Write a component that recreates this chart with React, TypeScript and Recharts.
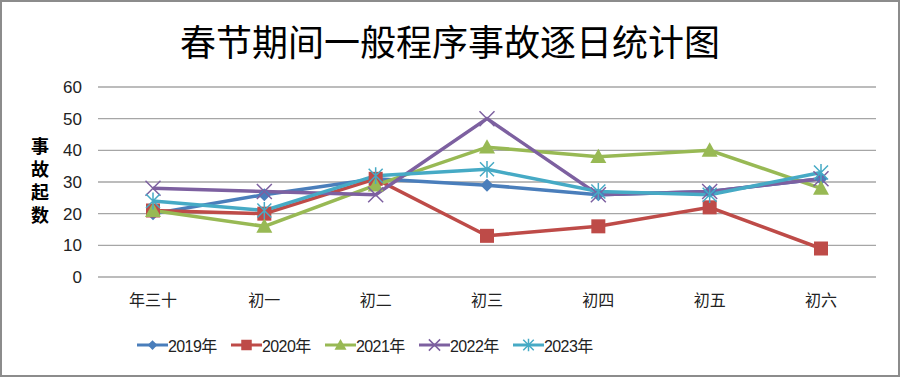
import { LineChart, Line, XAxis, YAxis, CartesianGrid, Legend } from "recharts";

const days = ["年三十", "初一", "初二", "初三", "初四", "初五", "初六"];
const y2019 = [20, 26, 31, 29, 26, 27, 31];
const y2020 = [21, 20, 31, 13, 16, 22, 9];
const y2021 = [21, 16, 29, 41, 38, 40, 28];
const y2022 = [28, 27, 26, 50, 26, 27, 31];
const y2023 = [24, 21, 32, 34, 27, 26, 33];
const yTicks = [0, 10, 20, 30, 40, 50, 60];

const data = days.map((d, i) => ({
  day: d,
  y2019: y2019[i],
  y2020: y2020[i],
  y2021: y2021[i],
  y2022: y2022[i],
  y2023: y2023[i],
}));

const series = [
  { key: "y2019", name: "2019年", color: "#4A7EBB", shape: "diamond" },
  { key: "y2020", name: "2020年", color: "#BE4B48", shape: "square" },
  { key: "y2021", name: "2021年", color: "#98B954", shape: "triangle" },
  { key: "y2022", name: "2022年", color: "#7D60A0", shape: "x" },
  { key: "y2023", name: "2023年", color: "#46AAC5", shape: "star" },
];

const Marker = ({ cx, cy, shape, color, s = 1 }: any) => {
  if (cx == null || cy == null) return null;
  if (shape === "diamond") {
    const r = 6.5 * s;
    return <path d={`M${cx},${cy - r}L${cx + r},${cy}L${cx},${cy + r}L${cx - r},${cy}Z`} fill={color} />;
  }
  if (shape === "square") {
    const r = 7 * s;
    return <rect x={cx - r} y={cy - r} width={2 * r} height={2 * r} fill={color} />;
  }
  if (shape === "triangle") {
    const r = 8 * s;
    return <path d={`M${cx},${cy - r}L${cx + r},${cy + r * 0.8}L${cx - r},${cy + r * 0.8}Z`} fill={color} />;
  }
  if (shape === "x") {
    const r = 7.5 * s;
    return (
      <path d={`M${cx - r},${cy - r}L${cx + r},${cy + r}M${cx + r},${cy - r}L${cx - r},${cy + r}`} stroke={color} strokeWidth={1.5} />
    );
  }
  const r = 7 * s;
  return (
    <path
      d={`M${cx - r},${cy - r}L${cx + r},${cy + r}M${cx + r},${cy - r}L${cx - r},${cy + r}M${cx},${cy - r * 1.2}L${cx},${cy + r * 1.2}`}
      stroke={color}
      strokeWidth={1.5}
    />
  );
};

const renderLegend = () => (
  <div
    style={{
      display: "flex",
      justifyContent: "flex-start",
      paddingTop: 16,
      paddingLeft: 89,
      fontFamily: "'Liberation Sans', 'Noto Sans CJK SC'",
      fontSize: 16,
      letterSpacing: -0.6,
      color: "#222",
    }}
  >
    {series.map((s) => (
      <div key={s.key} style={{ display: "flex", alignItems: "center", width: 94 }}>
        <svg width={31} height={16}>
          <line x1={0} y1={8} x2={31} y2={8} stroke={s.color} strokeWidth={3} />
          <Marker cx={15.5} cy={8} shape={s.shape} color={s.color} s={0.75} />
        </svg>
        <span>{s.name}</span>
      </div>
    ))}
  </div>
);

const App = () => {
  return (
    <div style={{ position: "absolute", left: 0, top: 0, width: 900, height: 377, background: "#fff" }}>
      <div style={{ position: "absolute", left: 0, top: 0, width: 896, height: 373, border: "2px solid #8c8c8c" }} />
      <div
        style={{
          position: "absolute",
          left: 0,
          top: 16,
          width: 900,
          textAlign: "center",
          fontFamily: "'Noto Sans CJK SC'",
          fontSize: 36,
          lineHeight: "48px",
          color: "#000",
        }}
      >
        春节期间一般程序事故逐日统计图
      </div>
      <div
        style={{
          position: "absolute",
          left: 29,
          top: 137,
          writingMode: "vertical-rl",
          textOrientation: "upright",
          fontFamily: "'Noto Sans CJK SC'",
          fontSize: 18,
          fontWeight: 700,
          letterSpacing: 5,
          lineHeight: "22px",
          color: "#000",
        }}
      >
        事故起数
      </div>
      <LineChart width={900} height={377} data={data} margin={{ top: 87, right: 24, bottom: 10, left: 48 }}>
        <CartesianGrid vertical={false} stroke="#a6a6a6" strokeWidth={1.3} />
        <XAxis
          dataKey="day"
          axisLine={false}
          tickLine={false}
          height={40}
          tickMargin={12}
          padding={{ left: 55, right: 55 }}
          tick={{ fontSize: 16, fill: "#222", fontFamily: "'Noto Sans CJK SC'" }}
        />
        <YAxis
          domain={[0, 60]}
          ticks={yTicks}
          axisLine={false}
          tickLine={false}
          width={50}
          tickMargin={10}
          tick={{ fontSize: 17, fill: "#222", fontFamily: "'Liberation Sans'" }}
        />
        <Legend verticalAlign="bottom" height={50} content={renderLegend} />
        {series.map((s) => (
          <Line
            key={s.key}
            dataKey={s.key}
            name={s.name}
            stroke={s.color}
            strokeWidth={3.5}
            isAnimationActive={false}
            dot={(p: any) => <Marker key={`${s.key}-${p.index}`} cx={p.cx} cy={p.cy} shape={s.shape} color={s.color} />}
            activeDot={false}
          />
        ))}
      </LineChart>
    </div>
  );
};

export default App;
